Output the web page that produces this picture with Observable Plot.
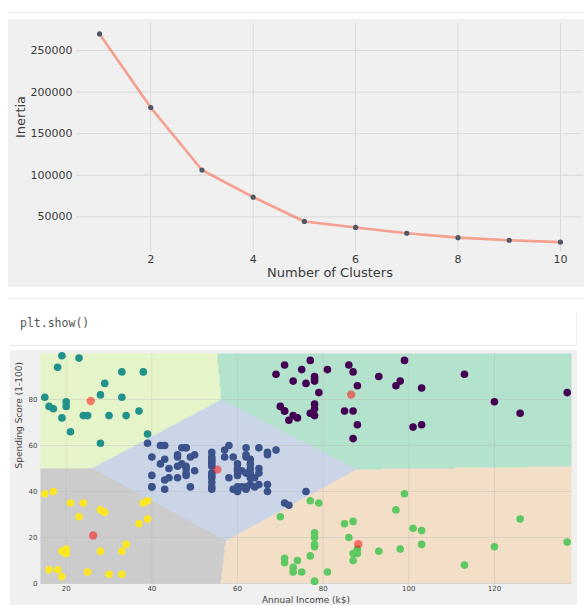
<!DOCTYPE html>
<html>
<head>
<meta charset="utf-8">
<script src="https://cdn.jsdelivr.net/npm/d3@7"></script>
<script src="https://cdn.jsdelivr.net/npm/@observablehq/plot@0.6"></script>
<style>
  html, body { margin: 0; padding: 0; background: #ffffff; }
  body { width: 584px; height: 605px; position: relative; overflow: hidden; font-family: "DejaVu Sans", sans-serif; }
  .abs { position: absolute; }
  svg { display: block; }
</style>
</head>
<body>
<div class="abs" style="left:8px;top:12px;width:576px;height:1px;background:#ececec"></div>
<div id="elbow" class="abs" style="left:8px;top:19px;width:576px;height:268px;background:#f0f0f0"></div>
<div class="abs" style="left:8px;top:298px;width:576px;height:1px;background:#eeeeee"></div>
<div class="abs" style="left:10px;top:313px;width:566px;height:32px;border-bottom:1px solid #e6e6e6;border-right:1px solid #eeeeee">
  <div class="abs" style="left:10px;top:3px;font-family:'DejaVu Sans Mono',monospace;font-size:11.5px;line-height:14px;color:#555;white-space:pre">plt.show()</div>
</div>
<div id="clusters" class="abs" style="left:10px;top:350px;width:567px;height:255px;background:#f0f0f0"></div>
<script>
// ---- Elbow chart data ----
const clusterCounts = [1, 2, 3, 4, 5, 6, 7, 8, 9, 10];
const inertiaValues = [269981, 181363, 106348, 73679, 44448, 37233, 30259, 25011, 21850, 19657];
const elbowXTicks = [2, 4, 6, 8, 10];
const elbowYTicks = [50000, 100000, 150000, 200000, 250000];

// ---- Customer data (Annual Income k$, Spending Score 1-100) ----
const income = [15,15,16,16,17,17,18,18,19,19,19,19,20,20,20,20,21,21,23,23,24,24,25,25,28,28,28,28,29,29,30,30,33,33,33,33,34,34,37,37,38,38,39,39,39,39,40,40,40,40,42,42,43,43,43,43,44,44,46,46,46,46,47,47,48,48,48,48,48,48,49,49,50,50,54,54,54,54,54,54,54,54,54,54,54,54,57,57,58,58,59,59,60,60,60,60,60,60,61,61,62,62,62,62,62,62,63,63,63,63,63,63,64,64,65,65,65,65,67,67,67,67,69,69,70,70,71,71,71,71,71,71,72,72,73,73,73,73,74,74,75,75,76,76,77,77,77,77,78,78,78,78,78,78,78,78,78,78,78,78,79,79,81,81,85,85,86,86,87,87,87,87,87,87,88,88,88,88,93,93,97,97,98,98,99,99,101,101,103,103,103,103,113,113,120,120,126,126,137,137];
const spending = [39,81,6,77,40,76,6,94,3,72,14,99,15,77,13,79,35,66,29,98,35,73,5,73,14,82,32,61,31,87,4,73,4,92,14,81,17,73,26,75,35,92,36,61,28,65,55,47,42,42,52,60,54,60,45,41,50,46,51,46,56,55,52,59,51,59,50,48,59,47,55,42,49,56,47,54,53,48,52,42,51,55,41,44,57,46,58,55,60,46,55,41,49,40,42,52,47,50,42,49,41,48,59,55,56,42,50,46,43,48,52,54,42,46,48,50,43,59,43,57,56,40,58,91,29,77,35,95,11,75,9,75,34,71,5,88,7,73,10,72,5,93,40,87,12,97,36,74,22,90,17,88,20,76,16,89,1,78,1,73,35,83,5,93,26,75,20,95,27,63,13,75,10,92,13,86,15,69,14,90,32,86,15,88,39,97,24,68,17,85,23,69,8,91,16,79,28,74,18,83];

// ---- KMeans (k=5) centroids ----
const centroidIncome = [86.54, 55.30, 25.73, 88.20, 26.30];
const centroidScore  = [82.13, 49.52, 79.36, 17.11, 20.91];
const regionColors = ["#b3e2cd", "#cbd5e8", "#e6f5c9", "#f3dec8", "#cccccc"];
const pointColors  = ["#440154", "#3b528b", "#21918c", "#5ec962", "#fde725"];
const clusterXTicks = [20, 40, 60, 80, 100, 120];
const clusterYTicks = [0, 20, 40, 60, 80];
const incomeDomain = [14, 138];
const scoreDomain = [0, 100];

// ---------------- Elbow plot ----------------
const elbowData = clusterCounts.map((k, i) => ({k, inertia: inertiaValues[i]}));
const elbow = Plot.plot({
  width: 576, height: 268,
  marginLeft: 68, marginRight: 1, marginTop: 4, marginBottom: 35,
  style: {background: "transparent", fontFamily: "DejaVu Sans", fontSize: "11px", color: "#3a3a3a", overflow: "visible"},
  x: {domain: [0.55, 10.45]},
  y: {domain: [7141, 282497]},
  marks: [
    Plot.gridX(elbowXTicks, {stroke: "#d9d9d9", strokeOpacity: 1, strokeWidth: 1}),
    Plot.gridY(elbowYTicks, {stroke: "#d9d9d9", strokeOpacity: 1, strokeWidth: 1}),
    Plot.axisX({ticks: elbowXTicks, tickSize: 0, tickPadding: 3, label: null, fontSize: 11}),
    Plot.axisY({ticks: elbowYTicks, tickSize: 0, tickPadding: 4, label: null, fontSize: 11, tickFormat: d => String(d)}),
    Plot.line(elbowData, {x: "k", y: "inertia", stroke: "#fc4f30", strokeOpacity: 0.5, strokeWidth: 2.6}),
    Plot.dot(elbowData, {x: "k", y: "inertia", r: 2.6, fill: "#4f5963", stroke: "none"}),
    Plot.text(["Number of Clusters"], {frameAnchor: "bottom", dy: 20.5, lineAnchor: "middle", fontSize: 13, fill: "#3a3a3a", text: d => d}),
    Plot.text(["Inertia"], {frameAnchor: "left", dx: -56, rotate: -90, lineAnchor: "middle", fontSize: 13, fill: "#3a3a3a", text: d => d})
  ]
});
document.getElementById("elbow").appendChild(elbow);

// ---------------- Cluster plot ----------------
function nearest(x, y) {
  let best = 0, bestD = Infinity;
  for (let j = 0; j < centroidIncome.length; j++) {
    const dx = x - centroidIncome[j], dy = y - centroidScore[j];
    const d = dx * dx + dy * dy;
    if (d < bestD) { bestD = d; best = j; }
  }
  return best;
}
const customers = income.map((x, i) => ({income: x, score: spending[i], cluster: nearest(x, spending[i])}));
const centroids = centroidIncome.map((x, j) => ({income: x, score: centroidScore[j]}));

const clusterPlot = Plot.plot({
  width: 567, height: 255,
  marginLeft: 30, marginRight: 6, marginTop: 3, marginBottom: 22,
  style: {background: "transparent", fontFamily: "DejaVu Sans", fontSize: "7px", color: "#444", overflow: "visible"},
  x: {domain: incomeDomain},
  y: {domain: scoreDomain},
  color: {type: "identity"},
  marks: [
    Plot.raster({x1: incomeDomain[0], x2: incomeDomain[1], y1: scoreDomain[0], y2: scoreDomain[1],
      fill: (x, y) => regionColors[nearest(x, y)], pixelSize: 1}),
    Plot.gridX(clusterXTicks, {stroke: "#b8b8b8", strokeOpacity: 0.35}),
    Plot.gridY(clusterYTicks, {stroke: "#b8b8b8", strokeOpacity: 0.35}),
    Plot.axisX({ticks: clusterXTicks, tickSize: 0, tickPadding: 3, label: null, fontSize: 7}),
    Plot.axisY({ticks: clusterYTicks, tickSize: 0, tickPadding: 3, label: null, fontSize: 7}),
    Plot.dot(customers, {x: "income", y: "score", r: 3.8, fill: d => pointColors[d.cluster], stroke: "none"}),
    Plot.dot(centroids, {x: "income", y: "score", r: 4.2, fill: "red", fillOpacity: 0.5, stroke: "none"}),
    Plot.text(["Annual Income (k$)"], {frameAnchor: "bottom", dy: 17, lineAnchor: "middle", fontSize: 9, fill: "#444", text: d => d}),
    Plot.text(["Spending Score (1-100)"], {frameAnchor: "left", dx: -21, rotate: -90, lineAnchor: "middle", fontSize: 9, fill: "#444", text: d => d})
  ]
});
document.getElementById("clusters").appendChild(clusterPlot);
</script>
</body>
</html>
